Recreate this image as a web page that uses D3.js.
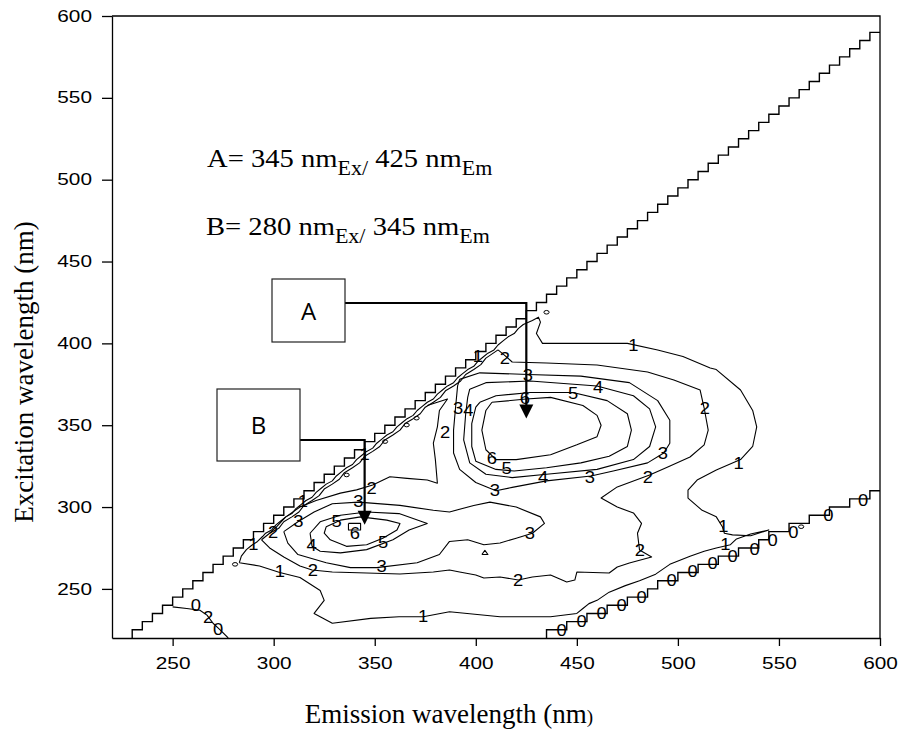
<!DOCTYPE html>
<html>
<head>
<meta charset="utf-8">
<script src="https://cdn.jsdelivr.net/npm/d3@7"></script>
<style>
  body { margin: 0; background: #fff; }
  svg { display: block; }
</style>
</head>
<body>
<svg id="chart" width="901" height="736"></svg>
<script>
// ---------------- data ----------------
const xTicks = [250, 300, 350, 400, 450, 500, 550, 600];
const yTicks = [250, 300, 350, 400, 450, 500, 550, 600];

// Fluorescence peaks (excitation / emission, nm)
const peakNames = ["A", "B"];
const peakEx = [345, 280];
const peakEm = [425, 345];

// Scatter mask edges on the 5 nm excitation grid
const exStep = 5;
const firstOrderOffset = 10;               // Em = Ex + 10 (first-order Rayleigh edge)
const firstOrderRows = d3.range(220, 590, exStep);
// Second-order edge: emission start for each excitation row 220..305
const secondOrderEx = [220, 225, 230, 235, 240, 245, 250, 255, 260, 265, 270, 275, 280, 285, 290, 295, 300, 305];
const secondOrderEm = [435, 445, 455, 465, 475, 485, 490, 500, 510, 520, 530, 540, 545, 555, 565, 575, 585, 595];

// Contour lines: [emission, excitation] pairs
const level6 = [
  [[408,364],[425,366],[437,367],[453,362],[460,356],[462,350],[460,343],[450,338],[437,332],[420,329],[410,329],[405,335],[403,347],[405,359],[408,364]],
  [[337,290],[343,290],[343,286],[337,286],[337,290]]
];
const level5 = [
  [[402,364],[410,368],[427,370],[448,370],[465,365],[475,357],[477,347],[475,337],[466,331],[452,327],[435,324],[419,322],[410,323],[400,328],[398,337],[398,351],[400,361],[402,364]],
  [[326,288],[333,292],[343,294],[356,292],[362.5,290],[361,286],[354,281],[346,277],[336,276],[328,280],[325,284],[326,288]]
];
const level4 = [
  [[397,372],[405,376],[427,377],[460,374],[478,368],[486,360],[489,349],[486,337],[478,329],[460,323],[435,320],[418,318],[405,320],[397,327],[394,341],[395,357],[396,367],[397,372]],
  [[318,284],[323,291],[333,295],[346,297],[362,296],[376,290],[367,286],[359,280],[346,274],[333,272],[323,273],[319,276],[318,284]]
];
const level3 = [
  [[392,378],[402,382],[426,381],[452,380],[476,376],[490,365],[496,353],[496,339],[493,333],[485,327],[468,322],[457,319],[435,316],[418,312],[410,310],[400,315],[392,323],[389,333],[389,347],[390,361],[391,374],[392,378]],
  [[305,285],[312,291],[320,297],[329,302],[342,303],[362.5,301],[379,298],[387,297],[399,301],[407,303],[420,300],[432,294],[434,290],[428,284],[420,281],[412,278],[404,277],[396,280],[387,279],[382,271],[371,266],[351,263],[338,263],[326,266],[312,271],[307,278],[305,285]],
  [[403,271],[406,271],[404.5,273.5],[403,271]]
];
const level2 = [
  [[376,362],[381,364],[386,366],[382,359],[381,349],[379,339],[380,329],[381,314.5],[376,316.5],[366,317.5],[357.5,318.5],[349,313.5],[341,310.5],[333,308.5],[321,304],[313,300],[306,294],[301.5,288],[298,284]],
  [[294,280],[298,275],[305,269.5],[313,264],[319,261.5],[329,260.3],[346,259.7],[362.5,259.1],[379,260.3],[387,261.5],[392,260.3],[400,258.5],[404,256.7],[412,257.3],[421,255.4],[428,257.3],[437,258.5],[445,254.2],[449,255.4],[450,260.3],[466,259.7],[470,263.4],[476,265.8],[487,269.5],[481,273.8],[480,284],[482,290],[478,296.4],[470,300],[462,305.5],[470,312.3],[486,319.6],[495,324.5],[506,330.6],[513,338],[515,347],[513,360.5],[511,371.5],[498,377.6],[485,382.5],[460,386.8],[435,388],[418,388.6],[414,393],[411,396]],
  [[294,280],[298,284],[302.5,287],[305,291],[309,294],[312.5,297],[315,301],[319,304],[322.5,307],[325,311],[329,314],[332.5,317],[335,321],[339,324],[342.5,327],[345,331],[349,334],[352.5,337],[355,341],[359,344],[362.5,347],[365,351],[369,354],[372.5,357],[375,361],[379,364],[382.5,367],[385,371],[389,374],[392.5,377],[395,381],[399,384],[402.5,387],[405,391],[411,396]]
];
const level1 = [
  [[283,266],[284,270],[286.5,274],[289,276.5],[292,279],[294.5,282],[296,284],[299,286],[301,289],[303.5,291.5],[306,294],[309,296],[311,299],[313.5,301.5],[316,304],[319,306],[321,309],[323.5,311.5],[326,314],[329,316],[331,319],[333.5,321.5],[336,324],[339,326],[341,329],[343.5,331.5],[346,334],[349,336],[351,339],[353.5,341.5],[356,344],[359,346],[361,349],[363.5,351.5],[366,354],[369,356],[371,359],[373.5,361.5],[376,364],[379,366],[381,369],[383.5,371.5],[386,374],[389,376],[391,379],[393.5,381.5],[396,384],[399,386],[401,389],[403.5,391.5],[406,394],[409,396],[411,399],[413.5,401.5],[416,404],[419,406],[421,409],[423.5,411.5],[428,414],
   [431,416],[432,413],[430,406],[433,400],[453,400],[475,400],[490,396],[502.5,392],[516,385],[519,384],[531,371.5],[537,359],[539,349],[537,337],[531,329],[519,322.6],[509.5,316.5],[505,310.4],[505,305.5],[512,298],[519,294],[522,288],[523,284],[527,283],[536,282.5],[545,286],[536,283.5],[529,280.5],[526,277],
   [519,275],[513,273],[506,270],[496,265],[489,259],[481,255],[474,252],[466,248],[460,243],[456,241],[453,238],[450,235],[437,233],[412,233],[387,236],[374,233],[362,233],[348,232],[329,229],[320,235],[325,243],[323,249],[313,257],[303,260],[293,264],[283,266]]
];
const level0 = [
  [[250,239],[257,238],[263.5,237],[267,234],[270,229],[273.5,225],[277.5,220]]
];
// Small isolated islands next to the first-order edge
const islands = [[435,419],[370.7,354.3],[365.8,350.1],[355.1,340],[336.1,319.6],[280.9,265],[561,288]];

// Contour labels: [level, emission, excitation]
const contourLabels = [
  [1,478,399],[1,530,327],[1,522.5,288],[1,523.5,277.5],[1,303,260.5],[1,374,233],[1,290,277],[1,314.5,303.3],[1,345,332],[1,401,392],
  [2,414.4,391],[2,513.4,360.3],[2,485.2,318.5],[2,481.2,273.8],[2,420.9,255.4],[2,319.4,261.5],[2,299.7,284.9],[2,384.8,346],[2,348.5,311.5],
  [3,425.8,380.7],[3,492.6,332.8],[3,456.5,318.5],[3,409.5,310.4],[3,391.3,360.3],[3,312.2,291.1],[3,341.9,303.3],[3,353.4,263.6],[3,426.8,284],
  [4,460.5,373.5],[4,396.3,359.3],[4,433.3,318.5],[4,318.8,276.8],
  [5,448.1,369.5],[5,415.3,323.7],[5,331.2,291.1],[5,354.2,278.8],
  [6,424.3,366.4],[6,407.9,329.8],[6,340.2,284],
  [0,442.5,224.9],[0,452.4,230],[0,462.3,235.1],[0,472.2,240.2],[0,482.1,245.2],[0,496.9,255.4],[0,507.3,260.5],[0,517.2,265.6],
  [0,527.1,269.7],[0,538,274.3],[0,546.9,279.9],[0,557.1,284.9],[0,574.4,294.7],[0,591.7,304.3],
  [0,261.5,240],[2,267.5,232.5],[0,272.5,225.5]
];

// ---------------- layout ----------------
const svg = d3.select("#chart");
const x = d3.scaleLinear().domain([220, 600]).range([112, 880]);
const y = d3.scaleLinear().domain([220, 600]).range([638, 16]);

svg.append("defs").append("clipPath").attr("id", "plotClip")
  .append("rect").attr("x", 112).attr("y", 16).attr("width", 768).attr("height", 622);

const plot = svg.append("g").attr("clip-path", "url(#plotClip)");
const line = d3.line().x(d => x(d[0])).y(d => y(d[1]));

// stair path: vertical at em from ex to ex+step, then horizontal to the next row
function stairPoints(exRows, emRows, endEm) {
  const pts = [];
  exRows.forEach((ex, i) => {
    pts.push([emRows[i], ex]);
    pts.push([emRows[i], ex + exStep]);
  });
  pts.push([endEm, exRows[exRows.length - 1] + exStep]);
  return pts;
}

const firstOrder = stairPoints(firstOrderRows, firstOrderRows.map(e => e + firstOrderOffset), 600);
const secondOrder = stairPoints(secondOrderEx, secondOrderEm, 600);

plot.selectAll("path.edge").data([firstOrder, secondOrder]).join("path")
  .attr("class", "edge")
  .attr("d", line)
  .attr("fill", "none").attr("stroke", "#000").attr("stroke-width", 1.4);

// contour lines
const allContours = [].concat(level0, level1, level2, level3, level4, level5, level6);
plot.selectAll("path.contour").data(allContours).join("path")
  .attr("class", "contour")
  .attr("d", line)
  .attr("fill", "none").attr("stroke", "#000").attr("stroke-width", 1.1)
  .attr("stroke-linejoin", "round");

// tiny islands
plot.selectAll("ellipse.island").data(islands).join("ellipse")
  .attr("class", "island")
  .attr("cx", d => x(d[0])).attr("cy", d => y(d[1]))
  .attr("rx", 2.6).attr("ry", 1.8)
  .attr("fill", "none").attr("stroke", "#000").attr("stroke-width", 1);

// contour labels
plot.selectAll("text.clabel").data(contourLabels).join("text")
  .attr("class", "clabel")
  .attr("transform", d => `translate(${x(d[1])},${y(d[2])}) scale(1.15,1)`)
  .attr("text-anchor", "middle")
  .attr("dy", "0.36em")
  .attr("font-family", "Liberation Sans, Arial, sans-serif")
  .attr("font-size", 16)
  .attr("fill", "#000")
  .text(d => d[0]);

// ---------------- axes ----------------
const axisLeft = d3.axisLeft(y).tickValues(yTicks).tickSize(10).tickSizeOuter(0).tickFormat(d3.format("d"));
const axisBottom = d3.axisBottom(x).tickValues(xTicks).tickSize(8).tickSizeOuter(0).tickFormat(d3.format("d"));

const gy = svg.append("g").attr("transform", "translate(112,0)").call(axisLeft);
const gx = svg.append("g").attr("transform", "translate(0,638)").call(axisBottom);

[gx, gy].forEach(g => {
  g.select(".domain").attr("stroke", "#000").attr("stroke-width", 1.3);
  g.selectAll(".tick line").attr("stroke", "#000").attr("stroke-width", 1.3);
  g.selectAll(".tick text")
    .attr("font-family", "Liberation Sans, Arial, sans-serif")
    .attr("font-size", 16)
    .attr("fill", "#000");
});
gy.selectAll(".tick text").attr("x", 0).attr("transform", "translate(-20,0) scale(1.3,1)");
gx.selectAll(".tick text").attr("y", 0).attr("transform", "translate(0,20) scale(1.3,1)");

// top and right frame
svg.append("path")
  .attr("d", `M${x(220)},${y(600)}H${x(600)}V${y(220)}`)
  .attr("fill", "none").attr("stroke", "#000").attr("stroke-width", 1.3);

// axis titles
svg.append("text")
  .attr("x", 449).attr("y", 723)
  .attr("text-anchor", "middle")
  .attr("font-family", "Liberation Serif, Times New Roman, serif")
  .attr("font-size", 27)
  .call(t => {
    t.append("tspan").text("Emission wavelength (nm");
    t.append("tspan").attr("font-size", 19).text(")");
  });

svg.append("text")
  .attr("transform", "translate(33,372) rotate(-90)")
  .attr("text-anchor", "middle")
  .attr("font-family", "Liberation Serif, Times New Roman, serif")
  .attr("font-size", 27)
  .text("Excitation wavelength (nm)");

// ---------------- peak annotations ----------------
const noteX = [207, 206];
const noteY = [167, 235];
peakNames.forEach((name, i) => {
  const t = svg.append("text")
    .attr("transform", `translate(${noteX[i]},${noteY[i]}) scale(1.1,1)`)
    .attr("font-family", "Liberation Serif, Times New Roman, serif")
    .attr("font-size", 26).attr("fill", "#000");
  t.append("tspan").text(`${name}= ${peakEx[i]} nm`);
  t.append("tspan").attr("font-size", 20).attr("dy", 8).text("Ex/");
  t.append("tspan").attr("dy", -8).text(` ${peakEm[i]} nm`);
  t.append("tspan").attr("font-size", 20).attr("dy", 8).text("Em");
});

// label boxes with leader arrows to each peak
const boxes = [
  { x0: 272, y0: 279, x1: 345, y1: 342, lead: 303 },
  { x0: 217, y0: 389, x1: 300, y1: 461, lead: 440 }
];
const tipGap = 15, headLen = 14, headHalf = 7;
peakNames.forEach((name, i) => {
  const b = boxes[i];
  const ax = x(peakEm[i]);
  const tipY = y(peakEx[i]) - tipGap;
  svg.append("path")
    .attr("d", `M${b.x1},${b.lead}H${ax}V${tipY - headLen + 1}`)
    .attr("fill", "none").attr("stroke", "#000").attr("stroke-width", 2.2);
  svg.append("path")
    .attr("d", `M${ax},${tipY}L${ax - headHalf},${tipY - headLen}L${ax + headHalf},${tipY - headLen}Z`)
    .attr("fill", "#000");
  svg.append("rect")
    .attr("x", b.x0).attr("y", b.y0)
    .attr("width", b.x1 - b.x0).attr("height", b.y1 - b.y0)
    .attr("fill", "#fff").attr("stroke", "#222").attr("stroke-width", 1.2);
  svg.append("text")
    .attr("x", (b.x0 + b.x1) / 2).attr("y", (b.y0 + b.y1) / 2 + 9)
    .attr("text-anchor", "middle")
    .attr("font-family", "Open Sans, Liberation Sans, sans-serif")
    .attr("font-size", 24).attr("fill", "#000")
    .text(name);
});
</script>
</body>
</html>
